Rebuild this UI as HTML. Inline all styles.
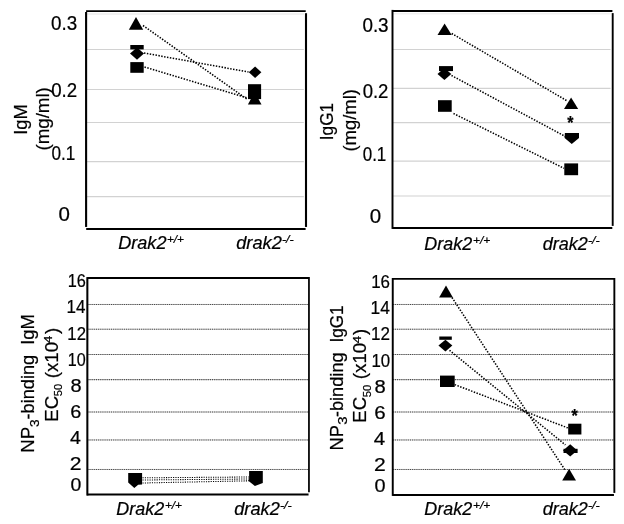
<!DOCTYPE html><html><head><meta charset="utf-8"><style>html,body{margin:0;padding:0;background:#fff}svg{display:block;will-change:transform;filter:grayscale(1)}text{font-family:"Liberation Sans", sans-serif;fill:#000;stroke:#000;stroke-width:0.22px}</style></head><body>
<svg width="624" height="524" viewBox="0 0 624 524">
<rect width="624" height="524" fill="#fff"/>
<line x1="86.1" y1="49.5" x2="303.8" y2="49.5" stroke="#d2d2d2" stroke-width="1.1"/>
<line x1="86.1" y1="89.5" x2="303.8" y2="89.5" stroke="#d2d2d2" stroke-width="1.1"/>
<line x1="86.1" y1="122.5" x2="303.8" y2="122.5" stroke="#d2d2d2" stroke-width="1.1"/>
<line x1="86.1" y1="161.6" x2="303.8" y2="161.6" stroke="#d2d2d2" stroke-width="1.1"/>
<line x1="86.1" y1="196.6" x2="303.8" y2="196.6" stroke="#d2d2d2" stroke-width="1.1"/>
<line x1="86.1" y1="14.0" x2="304.0" y2="14.0" stroke="#dcdcdc" stroke-width="0.8"/>
<line x1="143" y1="25.5" x2="247.5" y2="99.5" stroke="#000" stroke-width="1.55" stroke-dasharray="1.45 1.47"/>
<line x1="144" y1="53" x2="248.5" y2="72" stroke="#000" stroke-width="1.55" stroke-dasharray="1.45 1.47"/>
<line x1="144.5" y1="67" x2="247.5" y2="98" stroke="#000" stroke-width="1.55" stroke-dasharray="1.45 1.47"/>
<polygon points="136,16.9 143.2,29.8 128.8,29.8" fill="#000"/>
<rect x="130.3" y="45" width="13.4" height="4.4" fill="#000"/>
<polygon points="137,47.5 144.0,53.6 137,59.7 130.0,53.6" fill="#000"/>
<rect x="130.3" y="62.1" width="13.4" height="10.7" fill="#000"/>
<polygon points="255.1,66.5 261.4,72.2 255.1,77.9 248.8,72.2" fill="#000"/>
<rect x="248" y="84.2" width="13.1" height="14.9" fill="#000"/>
<polygon points="254.7,92 261.5,104.5 247.9,104.5" fill="#000"/>
<line x1="86.1" y1="12.0" x2="86.1" y2="226.95" stroke="#000" stroke-width="2.1"/>
<line x1="306.0" y1="13.2" x2="306.0" y2="226.95" stroke="#000" stroke-width="2.1"/>
<line x1="86.1" y1="11.1" x2="305.7" y2="11.1" stroke="#000" stroke-width="1.8"/>
<line x1="86.2" y1="229.0" x2="305.6" y2="229.0" stroke="#000" stroke-width="1.9"/>
<text transform="translate(50.947,30.119) scale(0.97,1)" font-size="19.4" style="">0.3</text>
<text transform="translate(51.152,96.519) scale(0.964,1)" font-size="19.4" style="">0.2</text>
<text transform="translate(51.415,160.169) scale(0.883,1)" font-size="19.4" style="">0.1</text>
<text transform="translate(58.579,221.269) scale(1.058,1)" font-size="19.4" style="">0</text>
<text transform="translate(26.6,134.804) rotate(-90) scale(0.996,1)" font-size="18.5" style="">IgM</text>
<text transform="translate(48.8,150.57) rotate(-90) scale(1.018,1)" font-size="18.4" style="">(mg/ml)</text>
<text transform="translate(118.156,248.9) scale(1.011,1)" font-size="17.931" style="font-style:italic">Drak2</text>
<text transform="translate(166.964,242.643) scale(1.096,1)" font-size="10.748" style="font-style:italic">+/+</text>
<text transform="translate(236.207,248.9) scale(1.018,1)" font-size="17.931" style="font-style:italic">drak2</text>
<text transform="translate(281.94,242.643) scale(1.169,1)" font-size="10.748" style="font-style:italic">-/-</text>
<line x1="392.5" y1="49.5" x2="610.5" y2="49.5" stroke="#d2d2d2" stroke-width="1.1"/>
<line x1="392.5" y1="88.4" x2="610.5" y2="88.4" stroke="#d2d2d2" stroke-width="1.1"/>
<line x1="392.5" y1="122.6" x2="610.5" y2="122.6" stroke="#d2d2d2" stroke-width="1.1"/>
<line x1="392.5" y1="161.1" x2="610.5" y2="161.1" stroke="#d2d2d2" stroke-width="1.1"/>
<line x1="392.5" y1="196" x2="610.5" y2="196" stroke="#d2d2d2" stroke-width="1.1"/>
<line x1="392.5" y1="13.8" x2="610.7" y2="13.8" stroke="#e4e4e4" stroke-width="0.8"/>
<line x1="451.7" y1="33.5" x2="567.2" y2="100.9" stroke="#000" stroke-width="1.55" stroke-dasharray="1.45 1.47"/>
<line x1="451.5" y1="75.5" x2="565.8" y2="136.7" stroke="#000" stroke-width="1.55" stroke-dasharray="1.45 1.47"/>
<line x1="453.5" y1="113.5" x2="564" y2="168.3" stroke="#000" stroke-width="1.55" stroke-dasharray="1.45 1.47"/>
<polygon points="444.6,23.4 451.7,35 437.5,35" fill="#000"/>
<rect x="439" y="66.1" width="14.0" height="5.0" fill="#000"/>
<polygon points="444.4,68.1 451.3,74.1 444.4,80.1 437.5,74.1" fill="#000"/>
<rect x="438" y="100.2" width="13.7" height="11.6" fill="#000"/>
<polygon points="571.1,97.6 578.2,109.1 564.0,109.1" fill="#000"/>
<text transform="translate(567.16,128.666) scale(0.895,1)" font-size="17.987" style="font-weight:bold">*</text>
<polygon points="564.9,132.9 579,132.9 579,138 571.75,144 564.6,138" fill="#000"/>
<rect x="564.3" y="163.4" width="13.8" height="11.8" fill="#000"/>
<line x1="392.5" y1="9.9" x2="392.5" y2="228.9" stroke="#000" stroke-width="1.95"/>
<line x1="612.7" y1="13.1" x2="612.7" y2="225.9" stroke="#000" stroke-width="1.9"/>
<line x1="392.5" y1="10.9" x2="612.4" y2="10.9" stroke="#000" stroke-width="2.0"/>
<line x1="392.5" y1="227.95" x2="612.3" y2="227.95" stroke="#000" stroke-width="1.9"/>
<text transform="translate(362.396,31.794) scale(0.972,1)" font-size="19.4" style="">0.3</text>
<text transform="translate(362.658,98.069) scale(0.956,1)" font-size="19.4" style="">0.2</text>
<text transform="translate(362.721,161.469) scale(0.875,1)" font-size="19.4" style="">0.1</text>
<text transform="translate(369.679,222.569) scale(1.058,1)" font-size="19.4" style="">0</text>
<text transform="translate(333.4,140.245) rotate(-90) scale(0.932,1)" font-size="18.5" style="">IgG1</text>
<text transform="translate(355.5,151.552) rotate(-90) scale(1.002,1)" font-size="18.4" style="">(mg/ml)</text>
<text transform="translate(424.362,249.65) scale(1.02,1)" font-size="17.586" style="font-style:italic">Drak2</text>
<text transform="translate(472.95,244.138) scale(1.076,1)" font-size="11.156" style="font-style:italic">+/+</text>
<text transform="translate(542.714,249.65) scale(1.026,1)" font-size="17.586" style="font-style:italic">drak2</text>
<text transform="translate(587.94,243.843) scale(1.169,1)" font-size="10.748" style="font-style:italic">-/-</text>
<line x1="87.35" y1="304.45" x2="308.95" y2="304.45" stroke="#c4c4c4" stroke-width="1"/>
<line x1="87.35" y1="304.45" x2="308.95" y2="304.45" stroke="#484848" stroke-width="1.05" stroke-dasharray="1.05 1.1"/>
<line x1="87.35" y1="329.2" x2="308.95" y2="329.2" stroke="#c4c4c4" stroke-width="1"/>
<line x1="87.35" y1="329.2" x2="308.95" y2="329.2" stroke="#484848" stroke-width="1.05" stroke-dasharray="1.05 1.1"/>
<line x1="87.35" y1="354.5" x2="308.95" y2="354.5" stroke="#c4c4c4" stroke-width="1"/>
<line x1="87.35" y1="354.5" x2="308.95" y2="354.5" stroke="#484848" stroke-width="1.05" stroke-dasharray="1.05 1.1"/>
<line x1="87.35" y1="379.6" x2="308.95" y2="379.6" stroke="#c4c4c4" stroke-width="1"/>
<line x1="87.35" y1="379.6" x2="308.95" y2="379.6" stroke="#484848" stroke-width="1.05" stroke-dasharray="1.05 1.1"/>
<line x1="87.35" y1="412.0" x2="308.95" y2="412.0" stroke="#c4c4c4" stroke-width="1"/>
<line x1="87.35" y1="412.0" x2="308.95" y2="412.0" stroke="#484848" stroke-width="1.05" stroke-dasharray="1.05 1.1"/>
<line x1="87.35" y1="439.9" x2="308.95" y2="439.9" stroke="#c4c4c4" stroke-width="1"/>
<line x1="87.35" y1="439.9" x2="308.95" y2="439.9" stroke="#484848" stroke-width="1.05" stroke-dasharray="1.05 1.1"/>
<line x1="87.35" y1="469.45" x2="308.95" y2="469.45" stroke="#c4c4c4" stroke-width="1"/>
<line x1="87.35" y1="469.45" x2="308.95" y2="469.45" stroke="#484848" stroke-width="1.05" stroke-dasharray="1.05 1.1"/>
<line x1="142.5" y1="477.8" x2="249.5" y2="477" stroke="#000" stroke-width="1.05" stroke-dasharray="1.15 1.2"/>
<line x1="142.5" y1="480" x2="249.5" y2="479" stroke="#000" stroke-width="1.05" stroke-dasharray="1.15 1.2"/>
<line x1="142.5" y1="483" x2="249.5" y2="480.8" stroke="#000" stroke-width="1.05" stroke-dasharray="1.15 1.2"/>
<polygon points="128.2,473 142.1,473 142.1,484.5 138.2,484.8 134.3,488 128.2,482.4" fill="#000"/>
<polygon points="249.1,471 262.8,471 262.8,483.1 254.9,486.1 248.3,480.7 249.1,479.4" fill="#000"/>
<line x1="87.35" y1="277.1" x2="87.35" y2="495.6" stroke="#000" stroke-width="2.05"/>
<line x1="308.95" y1="277.1" x2="308.95" y2="492.3" stroke="#000" stroke-width="1.75"/>
<line x1="87.35" y1="278.05" x2="308.95" y2="278.05" stroke="#000" stroke-width="1.9"/>
<line x1="87.35" y1="494.5" x2="308.55" y2="494.5" stroke="#000" stroke-width="2.2"/>
<text transform="translate(67.776,287.328) scale(0.873,1)" font-size="18.7" style="">16</text>
<text transform="translate(66.62,312.678) scale(0.913,1)" font-size="18.7" style="">14</text>
<text transform="translate(67.344,339.622) scale(0.896,1)" font-size="18.7" style="">12</text>
<text transform="translate(67.789,366.278) scale(0.863,1)" font-size="18.7" style="">10</text>
<text transform="translate(70.45,392.428) scale(1.07,1)" font-size="18.7" style="">8</text>
<text transform="translate(70.305,418.178) scale(1.064,1)" font-size="18.7" style="">6</text>
<text transform="translate(70.059,444.378) scale(1.048,1)" font-size="18.7" style="">4</text>
<text transform="translate(69.745,469.872) scale(1.128,1)" font-size="18.7" style="">2</text>
<text transform="translate(70.521,491.278) scale(1.042,1)" font-size="18.7" style="">0</text>
<text transform="translate(34.1,452.845) rotate(-90) scale(1.007,1)" font-size="18.6" style="">NP</text>
<text transform="translate(38.678,427.013) rotate(-90) scale(1.126,1)" font-size="12.155" style="">3</text>
<text transform="translate(34.1,419.519) rotate(-90) scale(0.979,1)" font-size="18.6" style="">-binding</text>
<text transform="translate(34.1,344.798) rotate(-90) scale(0.987,1)" font-size="18.6" style="">IgM</text>
<text transform="translate(58.0,421.73) rotate(-90) scale(0.997,1)" font-size="18.6" style="">EC</text>
<text transform="translate(62.484,396.146) rotate(-90) scale(0.961,1)" font-size="11.59" style="">50</text>
<text transform="translate(58.0,378.165) rotate(-90) scale(1.002,1)" font-size="18.6" style="">(x10</text>
<text transform="translate(52.0,342.899) rotate(-90) scale(1.169,1)" font-size="11.345" style="">4</text>
<text transform="translate(58.0,333.94) rotate(-90) scale(1.004,1)" font-size="18.6" style="">)</text>
<text transform="translate(116.362,514.9) scale(1.001,1)" font-size="17.931" style="font-style:italic">Drak2</text>
<text transform="translate(164.964,508.647) scale(1.139,1)" font-size="10.34" style="font-style:italic">+/+</text>
<text transform="translate(234.207,514.9) scale(1.018,1)" font-size="17.931" style="font-style:italic">drak2</text>
<text transform="translate(279.94,508.647) scale(1.215,1)" font-size="10.34" style="font-style:italic">-/-</text>
<line x1="392.75" y1="304.45" x2="614.35" y2="304.45" stroke="#c4c4c4" stroke-width="1"/>
<line x1="392.75" y1="304.45" x2="614.35" y2="304.45" stroke="#484848" stroke-width="1.05" stroke-dasharray="1.05 1.1"/>
<line x1="392.75" y1="329.2" x2="614.35" y2="329.2" stroke="#c4c4c4" stroke-width="1"/>
<line x1="392.75" y1="329.2" x2="614.35" y2="329.2" stroke="#484848" stroke-width="1.05" stroke-dasharray="1.05 1.1"/>
<line x1="392.75" y1="354.5" x2="614.35" y2="354.5" stroke="#c4c4c4" stroke-width="1"/>
<line x1="392.75" y1="354.5" x2="614.35" y2="354.5" stroke="#484848" stroke-width="1.05" stroke-dasharray="1.05 1.1"/>
<line x1="392.75" y1="379.6" x2="614.35" y2="379.6" stroke="#c4c4c4" stroke-width="1"/>
<line x1="392.75" y1="379.6" x2="614.35" y2="379.6" stroke="#484848" stroke-width="1.05" stroke-dasharray="1.05 1.1"/>
<line x1="392.75" y1="412.0" x2="614.35" y2="412.0" stroke="#c4c4c4" stroke-width="1"/>
<line x1="392.75" y1="412.0" x2="614.35" y2="412.0" stroke="#484848" stroke-width="1.05" stroke-dasharray="1.05 1.1"/>
<line x1="392.75" y1="439.9" x2="614.35" y2="439.9" stroke="#c4c4c4" stroke-width="1"/>
<line x1="392.75" y1="439.9" x2="614.35" y2="439.9" stroke="#484848" stroke-width="1.05" stroke-dasharray="1.05 1.1"/>
<line x1="392.75" y1="469.45" x2="614.35" y2="469.45" stroke="#c4c4c4" stroke-width="1"/>
<line x1="392.75" y1="469.45" x2="614.35" y2="469.45" stroke="#484848" stroke-width="1.05" stroke-dasharray="1.05 1.1"/>
<line x1="452" y1="297.5" x2="565.4" y2="470.6" stroke="#000" stroke-width="1.55" stroke-dasharray="1.45 1.47"/>
<line x1="449.5" y1="350.3" x2="565.4" y2="444.9" stroke="#000" stroke-width="1.55" stroke-dasharray="1.45 1.47"/>
<line x1="454.7" y1="384.6" x2="567.8" y2="427.9" stroke="#000" stroke-width="1.55" stroke-dasharray="1.45 1.47"/>
<polygon points="446,285.5 452.9,297.6 439.1,297.6" fill="#000"/>
<rect x="439.3" y="336.5" width="12.5" height="3.3" fill="#000"/>
<polygon points="445.4,339.7 452.35,345.6 445.4,351.5 438.45,345.6" fill="#000"/>
<rect x="440" y="375.6" width="14.7" height="11.4" fill="#000"/>
<text transform="translate(571.46,421.635) scale(0.869,1)" font-size="18.523" style="font-weight:bold">*</text>
<rect x="568.2" y="423.7" width="13.2" height="10.8" fill="#000"/>
<polygon points="570.2,444.2 577.3,450.4 570.2,456.6 563.1,450.4" fill="#000"/>
<rect x="563.5" y="448.8" width="14.1" height="4.2" fill="#000"/>
<polygon points="569.1,468.7 576.0,480.4 562.2,480.4" fill="#000"/>
<line x1="392.75" y1="278.0" x2="392.75" y2="495.9" stroke="#000" stroke-width="1.95"/>
<line x1="614.35" y1="278.0" x2="614.35" y2="492.9" stroke="#000" stroke-width="1.9"/>
<line x1="392.75" y1="278.9" x2="614.35" y2="278.9" stroke="#000" stroke-width="1.8"/>
<line x1="392.75" y1="494.95" x2="613.95" y2="494.95" stroke="#000" stroke-width="1.9"/>
<text transform="translate(371.13,288.378) scale(0.905,1)" font-size="18.7" style="">16</text>
<text transform="translate(370.597,313.678) scale(0.929,1)" font-size="18.7" style="">14</text>
<text transform="translate(371.121,339.872) scale(0.912,1)" font-size="18.7" style="">12</text>
<text transform="translate(371.437,366.928) scale(0.901,1)" font-size="18.7" style="">10</text>
<text transform="translate(374.541,393.228) scale(1.081,1)" font-size="18.7" style="">8</text>
<text transform="translate(374.373,418.978) scale(1.098,1)" font-size="18.7" style="">6</text>
<text transform="translate(373.737,445.128) scale(1.101,1)" font-size="18.7" style="">4</text>
<text transform="translate(373.945,470.572) scale(1.128,1)" font-size="18.7" style="">2</text>
<text transform="translate(374.604,492.378) scale(1.064,1)" font-size="18.7" style="">0</text>
<text transform="translate(342.9,450.412) rotate(-90) scale(0.985,1)" font-size="18.6" style="">NP</text>
<text transform="translate(347.078,424.861) rotate(-90) scale(1.23,1)" font-size="12.155" style="">3</text>
<text transform="translate(342.9,417.119) rotate(-90) scale(0.979,1)" font-size="18.6" style="">-binding</text>
<text transform="translate(342.9,342.592) rotate(-90) scale(0.925,1)" font-size="18.6" style="">IgG1</text>
<text transform="translate(366.4,422.736) rotate(-90) scale(1.001,1)" font-size="18.6" style="">EC</text>
<text transform="translate(370.684,397.149) rotate(-90) scale(0.969,1)" font-size="11.59" style="">50</text>
<text transform="translate(366.4,379.172) rotate(-90) scale(1.008,1)" font-size="18.6" style="">(x10</text>
<text transform="translate(360.5,343.299) rotate(-90) scale(1.155,1)" font-size="11.491" style="">4</text>
<text transform="translate(366.4,335.037) rotate(-90) scale(0.983,1)" font-size="18.6" style="">)</text>
<text transform="translate(424.362,515.35) scale(1.005,1)" font-size="17.862" style="font-style:italic">Drak2</text>
<text transform="translate(472.95,509.392) scale(1.109,1)" font-size="10.816" style="font-style:italic">+/+</text>
<text transform="translate(542.714,515.35) scale(1.01,1)" font-size="17.862" style="font-style:italic">drak2</text>
<text transform="translate(587.94,509.244) scale(1.184,1)" font-size="10.612" style="font-style:italic">-/-</text>
</svg></body></html>
